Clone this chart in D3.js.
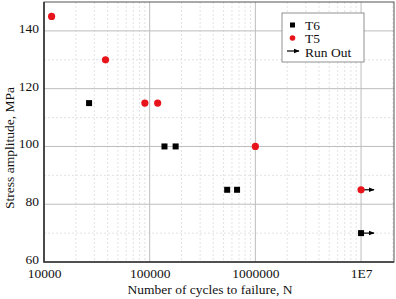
<!DOCTYPE html>
<html>
<head>
<meta charset="utf-8">
<script src="https://cdn.jsdelivr.net/npm/d3@7"></script>
<style>
  body { margin: 0; background: #fff; }
  svg text { font-family: "Liberation Serif", "Times New Roman", serif !important; fill: #111; }
</style>
</head>
<body>
<svg id="chart" width="396" height="299"></svg>
<script>
// T6 specimens: cycles, stress amplitude, run out flag
const t6Cycles = [26700, 138000, 176000, 541000, 671000, 1e7];
const t6Stress = [115, 100, 100, 85, 85, 70];
const t6RunOut = [false, false, false, false, false, true];

// T5 specimens
const t5Cycles = [11800, 38200, 90000, 119000, 1e6, 1e7];
const t5Stress = [145, 130, 115, 115, 100, 85];
const t5RunOut = [false, false, false, false, false, true];

const xTickValues = [1e4, 1e5, 1e6, 1e7];
const xTickLabels = ["10000", "100000", "1000000", "1E7"];
const yTickValues = [60, 80, 100, 120, 140];

const svg = d3.select("#chart");
const margin = {left: 44, right: 2, top: 2, bottom: 37};
const width = 396 - margin.left - margin.right;
const height = 299 - margin.top - margin.bottom;
const serif = "'Liberation Serif', 'Times New Roman', serif";

const g = svg.append("g").attr("transform", `translate(${margin.left},${margin.top})`);

const x = d3.scaleLog().domain([1e4, 2.05e7]).range([0, width]);
const y = d3.scaleLinear().domain([60, 150]).range([height, 0]);

// minor grid
let minorX = [];
[1e4, 1e5, 1e6, 1e7].forEach(d => { for (let k = 2; k <= 9; k++) if (d * k <= 2.05e7) minorX.push(d * k); });
g.selectAll(".minor-x").data(minorX).enter().append("line")
    .attr("x1", d => x(d)).attr("x2", d => x(d))
    .attr("y1", 0).attr("y2", height)
    .style("stroke", "#dcdcdc").style("stroke-dasharray", "2,2").style("stroke-width", 0.8);
g.selectAll(".minor-y").data([70, 90, 110, 130]).enter().append("line")
    .attr("x1", 0).attr("x2", width)
    .attr("y1", d => y(d)).attr("y2", d => y(d))
    .style("stroke", "#dcdcdc").style("stroke-dasharray", "2,2").style("stroke-width", 0.8);

// major grid
g.selectAll(".major-x").data([1e5, 1e6, 1e7]).enter().append("line")
    .attr("x1", d => x(d)).attr("x2", d => x(d))
    .attr("y1", 0).attr("y2", height)
    .style("stroke", "#bdbdbd").style("stroke-width", 1);
g.selectAll(".major-y").data([80, 100, 120, 140]).enter().append("line")
    .attr("x1", 0).attr("x2", width)
    .attr("y1", d => y(d)).attr("y2", d => y(d))
    .style("stroke", "#bdbdbd").style("stroke-width", 1);

// axes (labels only)
const xAxis = d3.axisBottom(x).tickValues(xTickValues)
    .tickFormat((d, i) => xTickLabels[i]).tickSize(0).tickPadding(6);
const gx = g.append("g").attr("transform", `translate(0,${height})`).call(xAxis)
    .attr("font-family", serif).attr("font-size", 13.5);
gx.select(".domain").remove();

const yAxis = d3.axisLeft(y).tickValues(yTickValues).tickSize(0).tickPadding(5);
const gy = g.append("g").call(yAxis)
    .attr("font-family", serif).attr("font-size", 13.5);
gy.select(".domain").remove();
gy.selectAll("text").attr("dy", "0.1em");

// frame
g.append("rect").attr("x", 0).attr("y", 0).attr("width", width).attr("height", height)
    .style("fill", "none").style("stroke", "#555").style("stroke-width", 1);
g.append("path").attr("d", `M0,0V${height}H${width}`)
    .style("fill", "none").style("stroke", "#333").style("stroke-width", 1.6);

// arrowhead marker
svg.append("defs").append("marker")
    .attr("id", "arrow").attr("viewBox", "0 0 10 10")
    .attr("refX", 9).attr("refY", 5)
    .attr("markerWidth", 5).attr("markerHeight", 5)
    .attr("orient", "auto")
  .append("path").attr("d", "M0,1L10,5L0,9Z").style("fill", "#000");

const t6 = t6Cycles.map((c, i) => ({c, s: t6Stress[i], run: t6RunOut[i]}));
const t5 = t5Cycles.map((c, i) => ({c, s: t5Stress[i], run: t5RunOut[i]}));

// run-out arrows
g.selectAll(".run").data(t6.concat(t5).filter(d => d.run)).enter().append("line")
    .attr("x1", d => x(d.c)).attr("x2", d => x(d.c) + 13)
    .attr("y1", d => y(d.s)).attr("y2", d => y(d.s))
    .style("stroke", "#000").style("stroke-width", 1.2)
    .attr("marker-end", "url(#arrow)");

g.selectAll(".t6").data(t6).enter().append("rect")
    .attr("x", d => x(d.c) - 3).attr("y", d => y(d.s) - 3)
    .attr("width", 6).attr("height", 6)
    .style("fill", "#000");

g.selectAll(".t5").data(t5).enter().append("circle")
    .attr("cx", d => x(d.c)).attr("cy", d => y(d.s)).attr("r", 3.6)
    .style("fill", "#e8141b");

// axis titles
svg.append("text").attr("x", 210).attr("y", 294)
    .attr("text-anchor", "middle").style("font-size", "13.5px").text("Number of cycles to failure, N");
svg.append("text").attr("transform", `translate(14,148) rotate(-90)`)
    .attr("text-anchor", "middle").style("font-size", "13.5px").text("Stress amplitude, MPa");

// legend
const leg = svg.append("g").attr("transform", "translate(282,13)");
leg.append("rect").attr("width", 82).attr("height", 49)
    .style("fill", "#fff").style("stroke", "#777").style("stroke-width", 0.8);
leg.append("rect").attr("x", 8).attr("y", 9.5).attr("width", 5).attr("height", 5).style("fill", "#000");
leg.append("circle").attr("cx", 10.5).attr("cy", 25).attr("r", 2.8).style("fill", "#e8141b");
leg.append("line").attr("x1", 5).attr("x2", 17).attr("y1", 38).attr("y2", 38)
    .style("stroke", "#000").style("stroke-width", 1.2).attr("marker-end", "url(#arrow)");
const legLabels = ["T6", "T5", "Run Out"];
leg.selectAll(".lt").data(legLabels).enter().append("text")
    .attr("x", 23).attr("y", (d, i) => 16.5 + i * 13.5)
    .style("font-size", "13.5px").text(d => d);
</script>
</body>
</html>
